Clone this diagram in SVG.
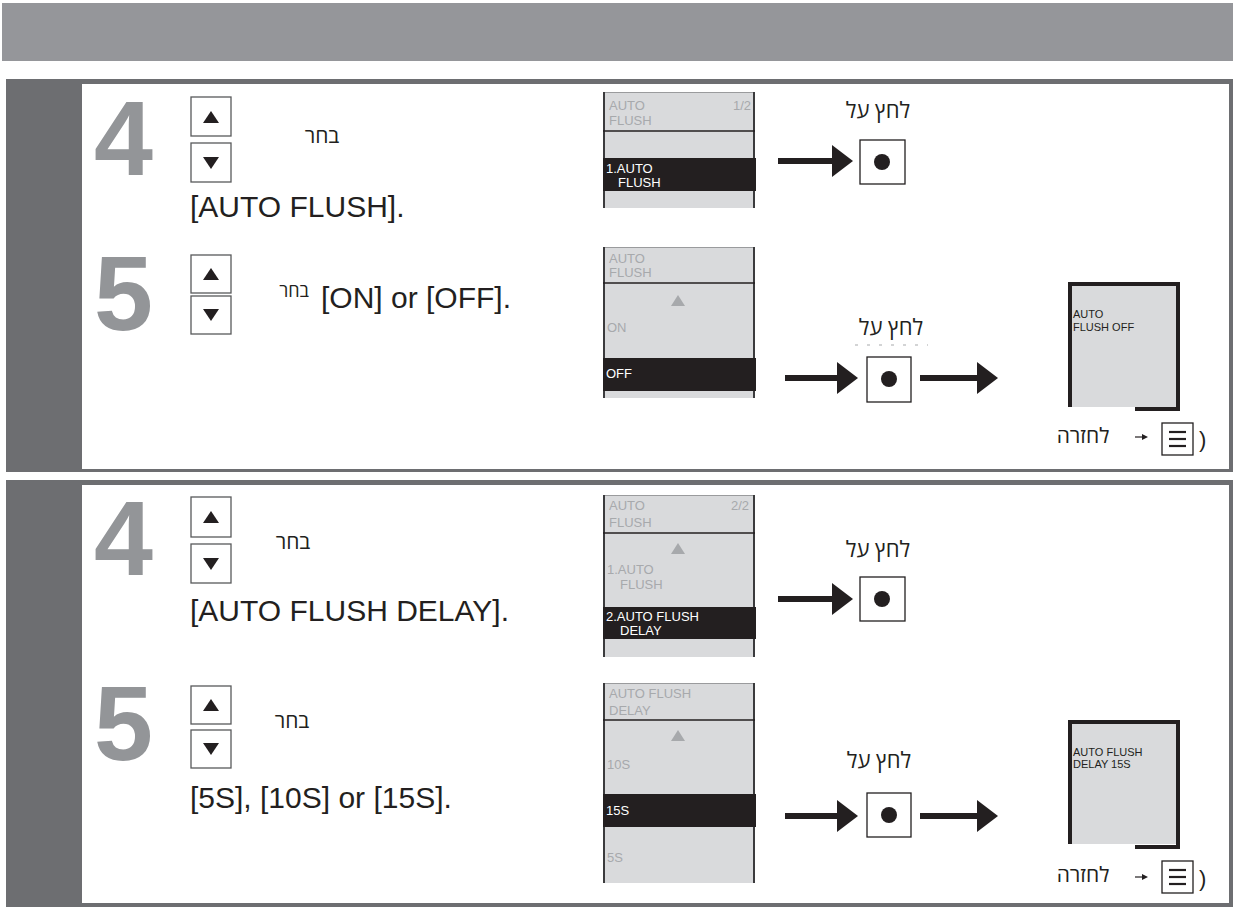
<svg xmlns="http://www.w3.org/2000/svg" width="1233" height="909" viewBox="0 0 1233 909">
<defs>
<style>
.bar{fill:#95969a}
.frame{fill:#6d6e71}
.inner{fill:#ffffff}
.num{font-family:"Liberation Sans",Arial,sans-serif;font-weight:bold;font-size:106px;fill:#939598}
.main{font-family:"Liberation Sans",Arial,sans-serif;font-size:30px;fill:#231f20}
.heb{font-family:"Open Sans","Liberation Sans","DejaVu Sans",sans-serif;fill:#231f20;text-anchor:middle}
.key{fill:#ffffff;stroke:#58595b;stroke-width:1.3}
.tri{fill:#231f20}
.scr{fill:#d9dadc}
.scrb{stroke:#3b3b3d;stroke-width:2;fill:none}
.sep{stroke:#231f20;stroke-width:1.5}
.band{fill:#231f20}
.st{font-family:"Liberation Sans",Arial,sans-serif;font-size:13px;fill:#a7a9ac}
.sw{font-family:"Liberation Sans",Arial,sans-serif;font-size:13px;fill:#ffffff}
.gtri{fill:#a7a9ac}
.res{stroke:#231f20;stroke-width:4;fill:none}
.rt{font-family:"Liberation Sans",Arial,sans-serif;font-size:11px;fill:#231f20}
.btn{fill:#ffffff;stroke:#231f20;stroke-width:1.3}
.dot{fill:#231f20}
.arr{stroke:#231f20;stroke-width:6;fill:none}
.thin{stroke:#231f20;stroke-width:1.2;fill:none}
.mline{stroke:#231f20;stroke-width:2.2}
.par{font-family:"Liberation Sans",Arial,sans-serif;font-size:22px;fill:#231f20}
</style>
<marker id="ah" viewBox="0 0 21 32" refX="1" refY="16" markerWidth="21" markerHeight="32" markerUnits="userSpaceOnUse" orient="auto">
<path d="M0,0 L21,16 L0,32 Z" fill="#231f20"/>
</marker>
<marker id="sah" viewBox="0 0 6 6" refX="1" refY="3" markerWidth="6" markerHeight="6" markerUnits="userSpaceOnUse" orient="auto">
<path d="M0,0 L6,3 L0,6 Z" fill="#231f20"/>
</marker>
</defs>

<g id="header"><rect class="bar" x="2" y="3" width="1231" height="58"/></g>

<g id="panel1">
<rect class="frame" x="6" y="79" width="1227" height="393"/>
<rect class="inner" x="82" y="84" width="1147" height="385"/>
</g>
<g id="panel2">
<rect class="frame" x="6" y="480" width="1227" height="427"/>
<rect class="inner" x="82" y="485" width="1147" height="418"/>
</g>

<g id="p1-step4">
<text class="num" x="94" y="175">4</text>
<rect class="key" x="191" y="97" width="40" height="39"/>
<path class="tri" d="M211,111 L219,123 L203,123 Z"/>
<rect class="key" x="191" y="143" width="40" height="39"/>
<path class="tri" d="M203,157 L219,157 L211,169 Z"/>
<text class="heb" x="322" y="143" font-size="21">בחר</text>
<text class="main" x="190" y="217">[AUTO FLUSH].</text>
</g>
<g id="p1-screen4">
<rect class="scr" x="603" y="92" width="152" height="116"/>
<line x1="603" y1="92.5" x2="755" y2="92.5" stroke="#9a9b9d" stroke-width="1"/>
<line class="scrb" x1="604" y1="92" x2="604" y2="208"/>
<line class="scrb" x1="754" y1="92" x2="754" y2="208"/>
<line class="sep" x1="603" y1="131" x2="755" y2="131"/>
<text class="st" x="609" y="110">AUTO</text>
<text class="st" x="609" y="125">FLUSH</text>
<text class="st" x="733" y="110">1/2</text>
<rect class="band" x="603" y="158" width="153" height="33"/>
<text class="sw" x="606" y="173">1.AUTO</text>
<text class="sw" x="618" y="187">FLUSH</text>
</g>
<g id="p1-press4">
<text class="heb" x="878" y="118" font-size="22">לחץ על</text>
<rect class="btn" x="860" y="140" width="45" height="44"/>
<circle class="dot" cx="882" cy="162" r="8"/>
</g>

<g id="p1-step5">
<text class="num" x="94" y="330">5</text>
<rect class="key" x="191" y="255" width="40" height="38"/>
<path class="tri" d="M211,268 L219,280 L203,280 Z"/>
<rect class="key" x="191" y="296" width="40" height="38"/>
<path class="tri" d="M203,309 L219,309 L211,321 Z"/>
<text class="heb" x="294" y="297" font-size="18">בחר</text>
<text class="main" x="321" y="308">[ON] or [OFF].</text>
</g>
<g id="p1-screen5">
<rect class="scr" x="603" y="247" width="152" height="151"/>
<line x1="603" y1="247.5" x2="755" y2="247.5" stroke="#9a9b9d" stroke-width="1"/>
<line class="scrb" x1="604" y1="247" x2="604" y2="398"/>
<line class="scrb" x1="754" y1="247" x2="754" y2="398"/>
<line class="sep" x1="603" y1="283" x2="755" y2="283"/>
<text class="st" x="609" y="263">AUTO</text>
<text class="st" x="609" y="277">FLUSH</text>
<path class="gtri" d="M678,295 L685,306 L671,306 Z"/>
<text class="st" x="607" y="332">ON</text>
<rect class="band" x="603" y="358" width="153" height="33"/>
<text class="sw" x="606" y="378">OFF</text>
</g>
<g id="p1-press5">
<text class="heb" x="891" y="335" font-size="22">לחץ על</text>
<line x1="855" y1="345" x2="928" y2="345" stroke="#a7a9ac" stroke-width="1.2" stroke-dasharray="3,9"/>
<rect class="btn" x="867" y="357" width="44" height="45"/>
<circle class="dot" cx="889" cy="379" r="8"/>
</g>
<g id="p1-result">
<rect class="scr" x="1068" y="282" width="112" height="125"/>
<path class="res" d="M1070,407 L1070,284 L1178,284 L1178,409 L1135,409"/>
<text class="rt" x="1073" y="318">AUTO</text>
<text class="rt" x="1073" y="331">FLUSH OFF</text>
</g>
<g id="p1-back">
<text class="heb" x="1083" y="443" font-size="21">לחזרה</text>
<line class="thin" x1="1135" y1="437" x2="1143" y2="437" marker-end="url(#sah)"/>
<rect class="btn" x="1162" y="423" width="31" height="32"/>
<line class="mline" x1="1169" y1="432" x2="1186" y2="432"/>
<line class="mline" x1="1169" y1="439" x2="1186" y2="439"/>
<line class="mline" x1="1169" y1="446" x2="1186" y2="446"/>
<text class="par" x="1199" y="447">)</text>
</g>

<g id="p2-step4">
<text class="num" x="94" y="575">4</text>
<rect class="key" x="191" y="497" width="40" height="40"/>
<path class="tri" d="M211,511 L219,523 L203,523 Z"/>
<rect class="key" x="191" y="544" width="40" height="39"/>
<path class="tri" d="M203,558 L219,558 L211,570 Z"/>
<text class="heb" x="293" y="549" font-size="21">בחר</text>
<text class="main" x="190" y="621">[AUTO FLUSH DELAY].</text>
</g>
<g id="p2-screen4">
<rect class="scr" x="603" y="495" width="152" height="162"/>
<line x1="603" y1="495.5" x2="755" y2="495.5" stroke="#9a9b9d" stroke-width="1"/>
<line class="scrb" x1="604" y1="495" x2="604" y2="657"/>
<line class="scrb" x1="754" y1="495" x2="754" y2="657"/>
<line class="sep" x1="603" y1="533" x2="755" y2="533"/>
<text class="st" x="609" y="510">AUTO</text>
<text class="st" x="609" y="527">FLUSH</text>
<text class="st" x="731" y="510">2/2</text>
<path class="gtri" d="M678,543 L685,554 L671,554 Z"/>
<text class="st" x="607" y="574">1.AUTO</text>
<text class="st" x="620" y="589">FLUSH</text>
<rect class="band" x="603" y="607" width="153" height="32"/>
<text class="sw" x="606" y="621">2.AUTO FLUSH</text>
<text class="sw" x="620" y="635">DELAY</text>
</g>
<g id="p2-press4">
<text class="heb" x="878" y="557" font-size="22">לחץ על</text>
<rect class="btn" x="860" y="577" width="45" height="44"/>
<circle class="dot" cx="882" cy="599" r="8"/>
</g>

<g id="p2-step5">
<text class="num" x="94" y="760">5</text>
<rect class="key" x="191" y="686" width="40" height="38"/>
<path class="tri" d="M211,699 L219,711 L203,711 Z"/>
<rect class="key" x="191" y="730" width="40" height="38"/>
<path class="tri" d="M203,743 L219,743 L211,755 Z"/>
<text class="heb" x="292" y="728" font-size="21">בחר</text>
<text class="main" x="190" y="808" font-size="28">[5S], [10S] or [15S].</text>
</g>
<g id="p2-screen5">
<rect class="scr" x="603" y="683" width="152" height="200"/>
<line x1="603" y1="683.5" x2="755" y2="683.5" stroke="#9a9b9d" stroke-width="1"/>
<line class="scrb" x1="604" y1="683" x2="604" y2="883"/>
<line class="scrb" x1="754" y1="683" x2="754" y2="883"/>
<line class="sep" x1="603" y1="720" x2="755" y2="720"/>
<text class="st" x="609" y="698">AUTO FLUSH</text>
<text class="st" x="609" y="715">DELAY</text>
<path class="gtri" d="M678,730 L685,741 L671,741 Z"/>
<text class="st" x="607" y="769">10S</text>
<rect class="band" x="603" y="794" width="153" height="33"/>
<text class="sw" x="606" y="815">15S</text>
<text class="st" x="607" y="862">5S</text>
</g>
<g id="p2-press5">
<text class="heb" x="879" y="768" font-size="22">לחץ על</text>
<rect class="btn" x="867" y="793" width="44" height="44"/>
<circle class="dot" cx="889" cy="815" r="8"/>
</g>
<g id="p2-result">
<rect class="scr" x="1068" y="720" width="112" height="124"/>
<path class="res" d="M1070,844 L1070,722 L1178,722 L1178,847 L1135,847"/>
<text class="rt" x="1073" y="756">AUTO FLUSH</text>
<text class="rt" x="1073" y="768">DELAY 15S</text>
</g>
<g id="p2-back">
<text class="heb" x="1083" y="882" font-size="21">לחזרה</text>
<line class="thin" x1="1135" y1="877" x2="1143" y2="877" marker-end="url(#sah)"/>
<rect class="btn" x="1162" y="861" width="31" height="32"/>
<line class="mline" x1="1169" y1="870" x2="1186" y2="870"/>
<line class="mline" x1="1169" y1="877" x2="1186" y2="877"/>
<line class="mline" x1="1169" y1="884" x2="1186" y2="884"/>
<text class="par" x="1199" y="886">)</text>
</g>

<g id="connectors">
<line class="arr" x1="778" y1="161" x2="833" y2="161" marker-end="url(#ah)"/>
<line class="arr" x1="785" y1="378" x2="838" y2="378" marker-end="url(#ah)"/>
<line class="arr" x1="920" y1="378" x2="978" y2="378" marker-end="url(#ah)"/>
<line class="arr" x1="778" y1="599" x2="833" y2="599" marker-end="url(#ah)"/>
<line class="arr" x1="785" y1="816" x2="838" y2="816" marker-end="url(#ah)"/>
<line class="arr" x1="920" y1="816" x2="978" y2="816" marker-end="url(#ah)"/>
</g>
</svg>
